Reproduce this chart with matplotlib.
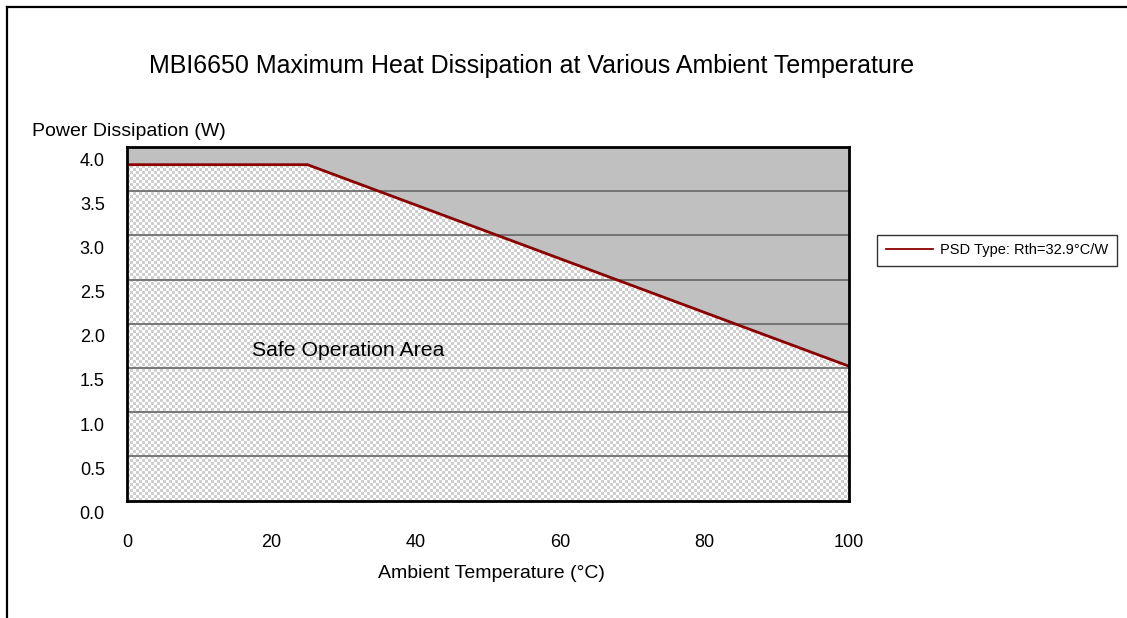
import numpy as np
import matplotlib
matplotlib.use("Agg")
import matplotlib.pyplot as plt
from matplotlib.patches import Polygon
from matplotlib.lines import Line2D
import matplotlib.transforms as mtransforms

plt.rcParams['font.family'] = ['Liberation Sans', 'DejaVu Sans']

# ---- data ----
temps = [0, 25, 100]              # Ambient temperature (°C)
power = [3.80, 3.80, 1.52]        # Max power dissipation (W), Rth = 32.9 °C/W
x_ticks = [0, 20, 40, 60, 80, 100]
y_ticks = [0.0, 0.5, 1.0, 1.5, 2.0, 2.5, 3.0, 3.5, 4.0]
series_label = "PSD Type: Rth=32.9°C/W"
title = "MBI6650 Maximum Heat Dissipation at Various Ambient Temperature"
xlabel = "Ambient Temperature (°C)"
ylabel = "Power Dissipation (W)"
area_label = "Safe Operation Area"

W, H = 1127, 618
fig = plt.figure(figsize=(W / 100, H / 100), dpi=100)
fig.patch.set_facecolor('white')

ax_l, ax_r, ax_t, ax_b = 127, 849, 147, 500.6
ax = fig.add_axes([ax_l / W, 1 - ax_b / H, (ax_r - ax_l) / W, (ax_b - ax_t) / H])
ax.set_facecolor('#c0c0c0')
ax.set_xlim(0, 100)
ax.set_ylim(0, 4.0)

# checkered safe area, clipped to polygon under the curve
px_w, px_h = int(ax_r - ax_l), int(ax_b - ax_t)
cell = 3
iy, ix = np.indices((px_h // cell + 1, px_w // cell + 1))
checker = ((ix + iy) % 2).astype(float)
img = ax.imshow(checker, extent=(0, 100, 0, 4.0), aspect='auto',
                interpolation='nearest', cmap=matplotlib.colors.ListedColormap(['#ffffff', '#cfcfcf']),
                origin='upper', zorder=1)
poly_pts = [(temps[0], 0)] + list(zip(temps, power)) + [(temps[-1], 0)]
poly = Polygon(poly_pts, closed=True, transform=ax.transData, facecolor='none', edgecolor='none')
ax.add_patch(poly)
img.set_clip_path(poly)
ax.set_xlim(0, 100)
ax.set_ylim(0, 4.0)

# gridlines
for yv in y_ticks[1:-1]:
    ax.axhline(yv, color='#6e6e6e', lw=1.3, zorder=2)

ax.plot(temps, power, color='#8b0000', lw=2, zorder=3, label=series_label)

ax.text(17.3, 1.70, area_label, fontsize=15.3, va='center', ha='left', zorder=4)

for s in ax.spines.values():
    s.set_color('black')
    s.set_linewidth(2)
    s.set_zorder(5)

ax.set_xticks(x_ticks)
ax.set_xticklabels([str(v) for v in x_ticks], fontsize=13)
ax.set_yticks(y_ticks)
ax.set_yticklabels([f"{v:.1f}" for v in y_ticks], fontsize=13)
ax.tick_params(axis='both', length=0)
ax.tick_params(axis='x', pad=24)
ax.tick_params(axis='y', pad=16)
offset = mtransforms.ScaledTranslation(0, -12 / 100, fig.dpi_scale_trans)
for lab in ax.get_yticklabels():
    lab.set_transform(lab.get_transform() + offset)

fig.text(532 / W, 1 - 66 / H, title, fontsize=18, ha='center', va='center')
fig.text(491 / W, 1 - 574 / H, xlabel, fontsize=14, ha='center', va='center')
fig.text(32 / W, 1 - 131 / H, ylabel, fontsize=14, ha='left', va='center')

leg = fig.legend(loc='center', bbox_to_anchor=(997 / W, 1 - 250.5 / H), fontsize=10.5,
                 frameon=True, fancybox=False, edgecolor='black', handlelength=3.2,
                 handletextpad=0.5, borderpad=0.6, borderaxespad=0)
leg.get_frame().set_linewidth(1)
for h in leg.legend_handles:
    h.set_linewidth(1.3)

# figure border (left and top)
fig.add_artist(Line2D([6.5 / W, 6.5 / W], [0, 1 - 6.5 / H], transform=fig.transFigure, color='black', lw=1.6))
fig.add_artist(Line2D([6.5 / W, 1], [1 - 6.5 / H, 1 - 6.5 / H], transform=fig.transFigure, color='black', lw=1.6))

fig.savefig('out.png', dpi=100)
